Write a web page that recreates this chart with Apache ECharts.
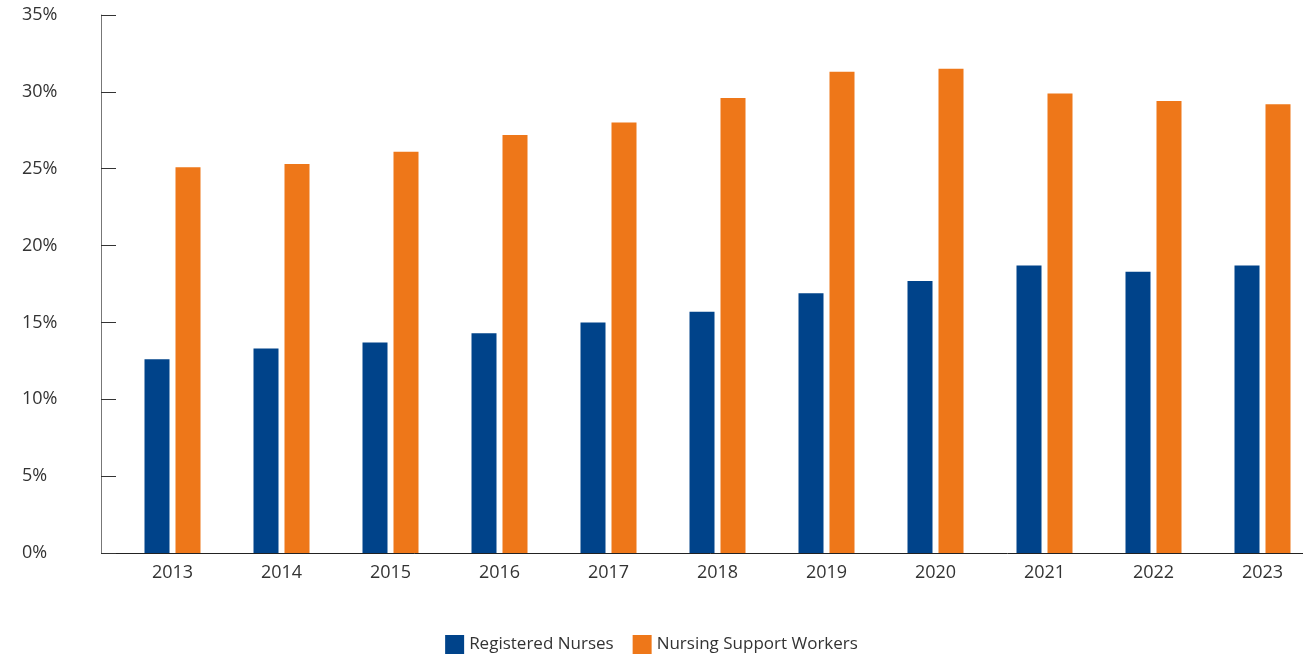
<!DOCTYPE html>
<html><head><meta charset="utf-8">
<script src="https://cdn.jsdelivr.net/npm/echarts@6/dist/echarts.min.js"></script>
<style>html,body{margin:0;padding:0;background:#fff}#c{width:1303px;height:659px}</style>
</head><body><div id="c"></div>
<script>
const years = ['2013','2014','2015','2016','2017','2018','2019','2020','2021','2022','2023'];
const registeredNurses = [12.6, 13.3, 13.7, 14.3, 15.0, 15.7, 16.9, 17.7, 18.7, 18.3, 18.7];
const supportWorkers = [25.1, 25.3, 26.1, 27.2, 28.0, 29.6, 31.3, 31.5, 29.9, 29.4, 29.2];
const seriesNames = ['Registered Nurses', 'Nursing Support Workers'];
const chart = echarts.init(document.getElementById('c'));
const font = '"Open Sans", Lato, sans-serif';
chart.setOption({
  animation: false,
  textStyle: {fontFamily: font},
  grid: {left: 118, width: 1199, top: 15, bottom: 106, outerBoundsMode: 'none', containLabel: false},
  legend: {
    bottom: 0, left: 'center', itemWidth: 19, itemHeight: 19, itemGap: 19,
    icon: 'rect',
    textStyle: {fontSize: 17, color: '#333', fontFamily: font},
    data: seriesNames
  },
  graphic: [{
    type: 'line', shape: {x1: 101, y1: 553.5, x2: 119, y2: 553.5},
    style: {stroke: '#222', lineWidth: 1}, silent: true
  }],
  xAxis: {
    type: 'category', data: years,
    axisLine: {lineStyle: {color: '#222', width: 1}},
    axisTick: {show: false},
    axisLabel: {fontSize: 18, color: '#333', margin: 11, fontFamily: font}
  },
  yAxis: {
    type: 'value', min: 0, max: 35, interval: 5, offset: 17,
    axisLine: {show: true, lineStyle: {color: '#777', width: 1}},
    axisTick: {show: true, inside: true, length: 15, lineStyle: {color: '#333'}},
    splitLine: {show: false},
    axisLabel: {formatter: '{value}%', fontSize: 18, color: '#333', align: 'left', margin: 79, fontFamily: font}
  },
  series: [
    {name: seriesNames[0], type: 'bar', data: registeredNurses, barWidth: 25, barGap: '24%', itemStyle: {color: '#00438A'}},
    {name: seriesNames[1], type: 'bar', data: supportWorkers, barWidth: 25, itemStyle: {color: '#EE7719'}}
  ]
});
</script></body></html>
